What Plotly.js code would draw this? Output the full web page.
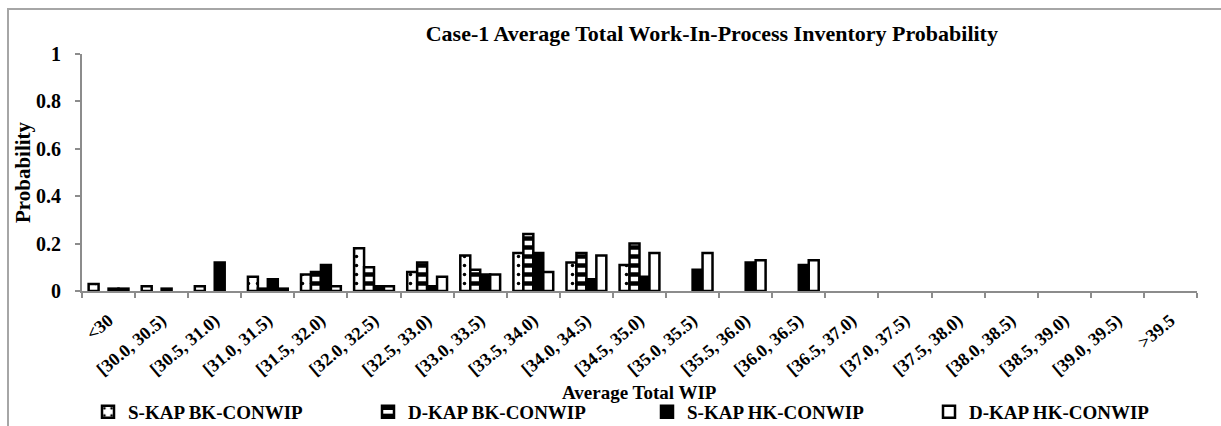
<!DOCTYPE html>
<html>
<head>
<meta charset="utf-8">
<script src="https://cdn.plot.ly/plotly-3.0.1.min.js"></script>
<style>
  html, body { margin: 0; padding: 0; background: #fff; }
  #wrap { position: relative; width: 1221px; height: 426px; overflow: hidden; }
  #chart { position: absolute; left: 0; top: 0; width: 1221px; height: 426px; }
  #frame { position: absolute; left: 7px; top: 8px; width: 1230px; height: 440px; border: 2px solid #a6a6a6; box-sizing: border-box; pointer-events: none; }
</style>
</head>
<body>
<div id="wrap">
  <div id="chart"></div>
  <div id="frame"></div>
</div>
<script>
const categories = ["<30", "[30.0, 30.5)", "[30.5, 31.0)", "[31.0, 31.5)", "[31.5, 32.0)", "[32.0, 32.5)",
  "[32.5, 33.0)", "[33.0, 33.5)", "[33.5, 34.0)", "[34.0, 34.5)", "[34.5, 35.0)", "[35.0, 35.5)",
  "[35.5, 36.0)", "[36.0, 36.5)", "[36.5, 37.0)", "[37.0, 37.5)", "[37.5, 38.0)", "[38.0, 38.5)",
  "[38.5, 39.0)", "[39.0, 39.5)", ">39.5"];
const seriesNames = ["S-KAP BK-CONWIP", "D-KAP BK-CONWIP", "S-KAP HK-CONWIP", "D-KAP HK-CONWIP"];
const sKapBk = [0.03, 0.02, 0.02, 0.06, 0.07, 0.18, 0.08, 0.15, 0.16, 0.12, 0.11, 0, 0, 0, 0, 0, 0, 0, 0, 0, 0];
const dKapBk = [0, 0, 0, 0.01, 0.08, 0.10, 0.12, 0.09, 0.24, 0.16, 0.20, 0, 0, 0, 0, 0, 0, 0, 0, 0, 0];
const sKapHk = [0.01, 0.01, 0.12, 0.05, 0.11, 0.02, 0.02, 0.07, 0.16, 0.05, 0.06, 0.09, 0.12, 0.11, 0, 0, 0, 0, 0, 0, 0];
const dKapHk = [0.01, 0, 0, 0.01, 0.02, 0.02, 0.06, 0.07, 0.08, 0.15, 0.16, 0.16, 0.13, 0.13, 0, 0, 0, 0, 0, 0, 0];

const FONT = "Liberation Serif";
const hideZero = arr => arr.map(v => (v === 0 ? null : v));
const outline = { color: "#000", width: 2.5 };
const legendFont = { family: FONT, size: 19, weight: "bold", color: "#000" };
const legendIds = ["legend", "legend2", "legend3", "legend4"];
const legendX = [88, 368, 647, 929];

const traces = [
  { name: seriesNames[0], y: hideZero(sKapBk),
    marker: { color: "#fff", line: outline,
      pattern: { shape: ".", fgcolor: "#000", bgcolor: "#fff", size: 9, solidity: 0.12 } } },
  { name: seriesNames[1], y: hideZero(dKapBk),
    marker: { color: "#fff", line: outline,
      pattern: { shape: "-", fgcolor: "#000", bgcolor: "#fff", size: 9, solidity: 0.5 } } },
  { name: seriesNames[2], y: hideZero(sKapHk),
    marker: { color: "#000", line: outline } },
  { name: seriesNames[3], y: hideZero(dKapHk),
    marker: { color: "#fff", line: outline } }
].map((t, i) => Object.assign({ type: "bar", x: categories, hoverinfo: "x+y+name", legend: legendIds[i] }, t));

const layout = {
  width: 1221, height: 426,
  paper_bgcolor: "rgba(0,0,0,0)", plot_bgcolor: "rgba(0,0,0,0)",
  margin: { l: 82, r: 24, t: 54, b: 135 },
  font: { family: FONT, color: "#000" },
  title: { text: "Case-1 Average Total Work-In-Process Inventory Probability",
    font: { family: FONT, size: 22, weight: "bold", color: "#000" },
    xref: "container", x: 0.583, xanchor: "center",
    yref: "container", y: 1 - 33 / 426, yanchor: "middle" },
  barmode: "group", bargap: 0.25, bargroupgap: 0,
  xaxis: {
    type: "category", automargin: false,
    showline: true, linecolor: "#8c8c8c", linewidth: 2,
    ticks: "outside", tickson: "boundaries", ticklen: 5, tickcolor: "#8c8c8c", tickwidth: 2,
    tickangle: -40, ticklabelstandoff: 10,
    tickfont: { family: FONT, size: 18, weight: "bold", color: "#000" },
    showgrid: false, zeroline: false
  },
  yaxis: {
    range: [0, 1], dtick: 0.2, automargin: false,
    showline: true, linecolor: "#8c8c8c", linewidth: 2,
    ticks: "outside", ticklen: 5, tickcolor: "#8c8c8c", tickwidth: 2,
    ticklabelstandoff: 10,
    tickfont: { family: FONT, size: 20, weight: "bold", color: "#000" },
    showgrid: false, zeroline: false,
    title: { text: "Probability", standoff: 0,
      font: { family: FONT, size: 21, weight: "bold", color: "#000" } }
  },
  annotations: [{
    text: "Average Total WIP", showarrow: false,
    xref: "paper", x: 0.5, xanchor: "center",
    yref: "paper", y: (291 - 392) / 237, yanchor: "middle",
    font: { family: FONT, size: 19, weight: "bold", color: "#000" }
  }],
  showlegend: true
};
legendIds.forEach((id, i) => {
  layout[id] = {
    orientation: "h", xref: "container", yref: "container",
    x: legendX[i] / 1221, xanchor: "left", y: 1 - 412 / 426, yanchor: "middle",
    itemwidth: 30, font: legendFont, bgcolor: "rgba(0,0,0,0)"
  };
});

Plotly.newPlot("chart", traces, layout, { displayModeBar: false, staticPlot: true });
</script>
</body>
</html>
